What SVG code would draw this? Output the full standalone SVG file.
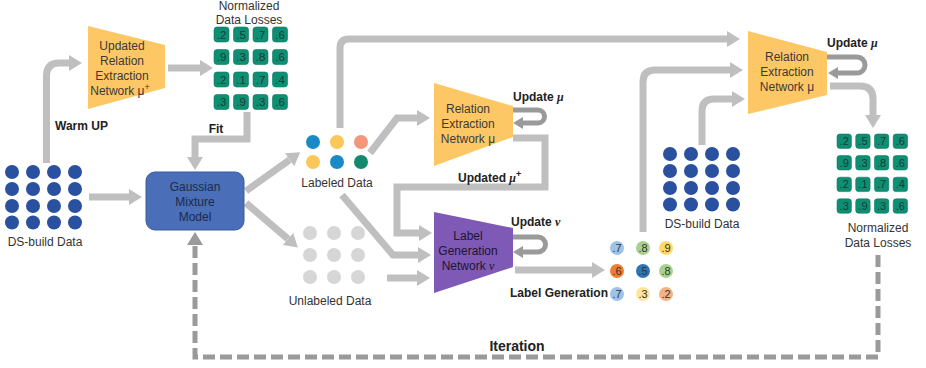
<svg xmlns="http://www.w3.org/2000/svg" width="926" height="368" viewBox="0 0 926 368">
<style>
text{font-family:"Liberation Sans",Arial,sans-serif;font-size:12px;fill:#333}
.b{font-weight:bold;fill:#222}
.m{font-family:"Liberation Serif","Times New Roman",serif;font-style:italic;font-weight:bold}
.tz{fill:#3a3a3a;text-anchor:middle}
.c{text-anchor:middle}
.arr{fill:none;stroke:#bfbfbf;stroke-width:7;marker-end:url(#ah)}
.loop{fill:none;stroke:#9a9a9a;stroke-width:5;marker-end:url(#lh)}
.dash{fill:none;stroke:#9a9a9a;stroke-width:5;stroke-dasharray:12 5}
.cell{fill:#0e8f74;stroke:#0b7a62;stroke-width:0.6}
.ct{font-size:11.5px;fill:#1c3a33;text-anchor:middle}
.dsd{fill:#2a50a0}
.ug{fill:#d6d6d6}
.orange{fill:#fdc765}
.lt{font-size:11px;fill:#333;text-anchor:middle}
</style>
<defs>
<marker id="ah" markerUnits="userSpaceOnUse" viewBox="0 0 13 16" refX="0" refY="8" markerWidth="13" markerHeight="16" orient="auto"><path d="M0,0 L13,8 L0,16 z" fill="#bfbfbf"/></marker>
<marker id="lh" markerUnits="userSpaceOnUse" viewBox="0 0 10 12" refX="0" refY="6" markerWidth="10" markerHeight="12" orient="auto"><path d="M0,0 L10,6 L0,12 z" fill="#9a9a9a"/></marker>
<marker id="dh" markerUnits="userSpaceOnUse" viewBox="0 0 13 16" refX="0" refY="8" markerWidth="13" markerHeight="16" orient="auto"><path d="M0,0 L13,8 L0,16 z" fill="#9a9a9a"/></marker>
<g id="grid">
<rect class="cell" x="0" y="0" width="15" height="15" rx="3"/><rect class="cell" x="19.5" y="0" width="15" height="15" rx="3"/><rect class="cell" x="39" y="0" width="15" height="15" rx="3"/><rect class="cell" x="58.5" y="0" width="15" height="15" rx="3"/>
<rect class="cell" x="0" y="22.5" width="15" height="15" rx="3"/><rect class="cell" x="19.5" y="22.5" width="15" height="15" rx="3"/><rect class="cell" x="39" y="22.5" width="15" height="15" rx="3"/><rect class="cell" x="58.5" y="22.5" width="15" height="15" rx="3"/>
<rect class="cell" x="0" y="45" width="15" height="15" rx="3"/><rect class="cell" x="19.5" y="45" width="15" height="15" rx="3"/><rect class="cell" x="39" y="45" width="15" height="15" rx="3"/><rect class="cell" x="58.5" y="45" width="15" height="15" rx="3"/>
<rect class="cell" x="0" y="67.5" width="15" height="15" rx="3"/><rect class="cell" x="19.5" y="67.5" width="15" height="15" rx="3"/><rect class="cell" x="39" y="67.5" width="15" height="15" rx="3"/><rect class="cell" x="58.5" y="67.5" width="15" height="15" rx="3"/>
<text class="ct" x="7.5" y="11.5">.2</text><text class="ct" x="27" y="11.5">.5</text><text class="ct" x="46.5" y="11.5">.7</text><text class="ct" x="66" y="11.5">.6</text>
<text class="ct" x="7.5" y="34">.9</text><text class="ct" x="27" y="34">.3</text><text class="ct" x="46.5" y="34">.8</text><text class="ct" x="66" y="34">.6</text>
<text class="ct" x="7.5" y="56.5">.2</text><text class="ct" x="27" y="56.5">.1</text><text class="ct" x="46.5" y="56.5">.7</text><text class="ct" x="66" y="56.5">.4</text>
<text class="ct" x="7.5" y="79">.3</text><text class="ct" x="27" y="79">.9</text><text class="ct" x="46.5" y="79">.3</text><text class="ct" x="66" y="79">.6</text>
</g>
<g id="dots16">
<circle class="dsd" cx="0" cy="0" r="7"/><circle class="dsd" cx="21" cy="0" r="7"/><circle class="dsd" cx="42" cy="0" r="7"/><circle class="dsd" cx="63" cy="0" r="7"/>
<circle class="dsd" cx="0" cy="17" r="7"/><circle class="dsd" cx="21" cy="17" r="7"/><circle class="dsd" cx="42" cy="17" r="7"/><circle class="dsd" cx="63" cy="17" r="7"/>
<circle class="dsd" cx="0" cy="34" r="7"/><circle class="dsd" cx="21" cy="34" r="7"/><circle class="dsd" cx="42" cy="34" r="7"/><circle class="dsd" cx="63" cy="34" r="7"/>
<circle class="dsd" cx="0" cy="50.5" r="7"/><circle class="dsd" cx="21" cy="50.5" r="7"/><circle class="dsd" cx="42" cy="50.5" r="7"/><circle class="dsd" cx="63" cy="50.5" r="7"/>
</g>
</defs>

<g id="connectors">
<path class="arr" d="M89,197 H129"/>
<path class="arr" d="M46.5,163 V76 Q46.5,63 59,63 H69"/>
<path class="arr" d="M168,68 H200"/>
<path class="arr" d="M247,112 V139 H195 V157"/>
<path class="arr" d="M246,191 L289.6,159.8"/>
<path class="arr" d="M246,203 L288,239"/>
<path class="arr" d="M340,128 V48 Q340,39 349,39 H727"/>
<path class="arr" d="M370,153 L397,118 H417"/>
<path class="arr" d="M513,138 H545 V187 H397 V233 H419"/>
<path class="arr" d="M342,195 L393,255 H418"/>
<path class="arr" d="M387,278 H417"/>
<path class="arr" d="M515,270 H592"/>
<path class="arr" d="M643,232 V82 Q643,70 655,70 H730"/>
<path class="arr" d="M702,145 V111 Q702,99 714,99 H732"/>
<path class="arr" d="M830,86 H860 Q873,86 873,99 V115"/>
<path class="loop" d="M513,110 H538 A6.5,6.5 0 0 1 538,123 H523"/>
<path class="loop" d="M513,237 H538 A7.5,7.5 0 0 1 538,252 H523"/>
<path class="loop" d="M827,57 H857 A8,8 0 0 1 857,73 H838"/>
<path class="dash" d="M878,255 V357 H195 V245" marker-end="url(#dh)"/>
</g>

<g id="ds-build-left">
<use href="#dots16" x="12" y="172"/>
<text class="c" x="45" y="246">DS-build Data</text>
</g>

<g id="warmup-label"><text class="b" x="55" y="130">Warm UP</text></g>
<g id="fit-label"><text class="b c" x="216" y="133">Fit</text></g>

<g id="updated-re-net">
<polygon class="orange" points="88,26 165,45 165,88 88,109"/>
<text class="tz" x="122" y="50">Updated</text>
<text class="tz" x="122" y="65">Relation</text>
<text class="tz" x="122" y="80">Extraction</text>
<text class="tz" x="120" y="95">Network μ<tspan dy="-5" font-size="9">+</tspan></text>
</g>

<g id="losses-top">
<text class="c" x="249" y="10">Normalized</text>
<text class="c" x="249" y="24">Data Losses</text>
<use href="#grid" x="214" y="27"/>
</g>

<g id="gmm">
<rect x="146" y="172" width="98" height="58" rx="9" fill="#4a6eb8" stroke="#3b5b9c" stroke-width="1"/>
<text class="c" x="195" y="191" fill="#1b2b4b" style="fill:#1b2b4b">Gaussian</text>
<text class="c" x="195" y="206" style="fill:#1b2b4b">Mixture</text>
<text class="c" x="195" y="221" style="fill:#1b2b4b">Model</text>
</g>

<g id="labeled-data">
<circle cx="313" cy="142" r="7" fill="#1a8ac6"/>
<circle cx="337" cy="142" r="7" fill="#fbc75a"/>
<circle cx="361" cy="142" r="7" fill="#f4967a"/>
<circle cx="313" cy="162" r="7" fill="#fbc75a"/>
<circle cx="337" cy="162" r="7" fill="#1a8ac6"/>
<circle cx="361" cy="162" r="7" fill="#138a6c"/>
<text class="c" x="337" y="187">Labeled Data</text>
</g>

<g id="unlabeled-data">
<circle class="ug" cx="310" cy="233" r="7"/><circle class="ug" cx="334" cy="233" r="7"/><circle class="ug" cx="358" cy="233" r="7"/>
<circle class="ug" cx="310" cy="255" r="7"/><circle class="ug" cx="334" cy="255" r="7"/><circle class="ug" cx="358" cy="255" r="7"/>
<circle class="ug" cx="310" cy="277" r="7"/><circle class="ug" cx="334" cy="277" r="7"/><circle class="ug" cx="358" cy="277" r="7"/>
<text class="c" x="330" y="305">Unlabeled Data</text>
</g>

<g id="re-net-mid">
<polygon class="orange" points="434,83 513,106 513,137 434,166"/>
<text class="tz" x="468" y="113">Relation</text>
<text class="tz" x="468" y="128">Extraction</text>
<text class="tz" x="468" y="143">Network μ</text>
<text class="b" x="513" y="101">Update <tspan class="m">μ</tspan></text>
</g>

<g id="updated-mu-label"><text class="b" x="458" y="182">Updated <tspan class="m">μ</tspan><tspan dy="-5" font-size="9">+</tspan></text></g>

<g id="label-gen-net">
<polygon points="434,212 513,228 513,267 434,293" fill="#7e59b6"/>
<text class="tz" x="468" y="240" style="fill:#1e1530">Label</text>
<text class="tz" x="468" y="255" style="fill:#1e1530">Generation</text>
<text class="tz" x="468" y="270" style="fill:#1e1530">Network <tspan font-family="Liberation Serif" font-style="italic">ν</tspan></text>
<text class="b" x="511" y="226">Update <tspan class="m">ν</tspan></text>
</g>

<g id="generated-labels">
<text class="b" x="608" y="297" text-anchor="end">Label Generation</text>
<circle cx="617" cy="248" r="7" fill="#9dc3e6"/><text class="lt" x="617" y="252">.7</text>
<circle cx="643" cy="248" r="7" fill="#a9d18e"/><text class="lt" x="643" y="252">.8</text>
<circle cx="666" cy="248" r="7" fill="#ffd966"/><text class="lt" x="666" y="252">.9</text>
<circle cx="617" cy="271" r="7" fill="#ed7d31"/><text class="lt" x="617" y="275">.6</text>
<circle cx="643" cy="271" r="7" fill="#2e75b6"/><text class="lt" x="643" y="275">.5</text>
<circle cx="666" cy="271" r="7" fill="#a9d18e"/><text class="lt" x="666" y="275">.8</text>
<circle cx="617" cy="294" r="7" fill="#9dc3e6"/><text class="lt" x="617" y="298">.7</text>
<circle cx="643" cy="294" r="7" fill="#ffe699"/><text class="lt" x="643" y="298">.3</text>
<circle cx="666" cy="294" r="7" fill="#f4b183"/><text class="lt" x="666" y="298">.2</text>
</g>

<g id="ds-build-right">
<use href="#dots16" x="670" y="154"/>
<text class="c" x="702" y="228">DS-build Data</text>
</g>

<g id="re-net-top">
<polygon class="orange" points="748,31 827,52 827,95 748,114"/>
<text class="tz" x="787" y="61">Relation</text>
<text class="tz" x="787" y="76">Extraction</text>
<text class="tz" x="787" y="91">Network μ</text>
<text class="b" x="827" y="47">Update <tspan class="m">μ</tspan></text>
</g>

<g id="losses-right">
<use href="#grid" x="837" y="134" transform="translate(837 134) scale(0.96) translate(-837 -134)"/>
<text class="c" x="878" y="232">Normalized</text>
<text class="c" x="878" y="247">Data Losses</text>
</g>

<g id="iteration-label"><text class="b c" x="517" y="351" style="font-size:14px">Iteration</text></g>
</svg>
